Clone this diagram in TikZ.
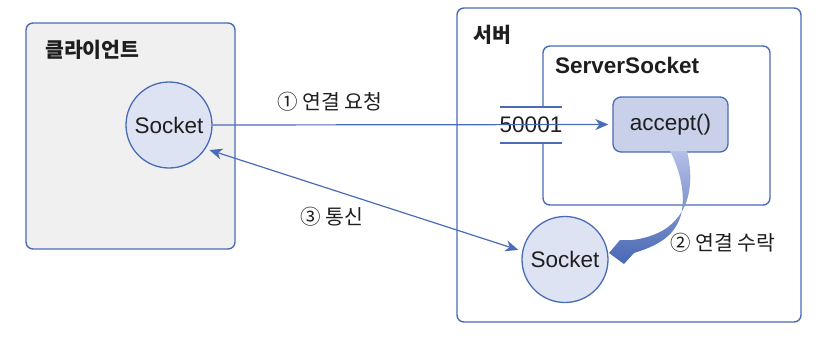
\documentclass[tikz,border=0pt]{standalone}
\usepackage{fontspec}
\setmainfont{Liberation Sans}
\newfontfamily\kr{Noto Sans CJK KR}
\usetikzlibrary{arrows.meta}
\definecolor{lineblue}{RGB}{74,108,182}
\definecolor{clientfill}{RGB}{240,240,240}
\definecolor{sockfill}{RGB}{222,227,243}
\definecolor{accfill}{RGB}{200,208,234}
\definecolor{txt}{RGB}{30,30,30}
\definecolor{gtop}{RGB}{180,192,232}
\definecolor{gmid}{RGB}{210,217,241}
\definecolor{gbot}{RGB}{72,104,180}
\tikzset{stl/.tip={Stealth[length=13pt,width=11pt,inset=4pt]}}
\begin{document}
\begin{tikzpicture}[x=1pt,y=-1pt,
  box/.style={draw=lineblue, line width=1.4pt, rounded corners=7pt},
  sock/.style={circle, draw=lineblue, line width=1.3pt, fill=sockfill, minimum size=86pt, inner sep=0pt, font=\fontsize{22.5}{26}\selectfont, text=txt},
  titlekr/.style={anchor=west, inner sep=0pt, font=\kr\bfseries\fontsize{20.5}{24}\selectfont, text=txt},
  lbl/.style={anchor=west, inner sep=0pt, font=\kr\fontsize{20.5}{24}\selectfont, text=txt},
  conn/.style={draw=lineblue, line width=1.2pt},
]
\useasboundingbox (0,0) rectangle (820,338);
% boxes
\draw[box, fill=clientfill] (26,23) rectangle (235,249);
\draw[box] (457,8) rectangle (801,322);
\draw[box] (543,107) -- (543,46) -- (770,46) -- (770,205) -- (543,205) -- (543,143);
% titles
\node[titlekr] (ct) at (45,50) {클라이언트};
\node[titlekr] (st) at (473,35) {서버};
\node[anchor=west, inner sep=0pt, font=\bfseries\fontsize{22.5}{26}\selectfont, text=txt] (sst) at (555,65) {ServerSocket};
% nodes
\node[sock] (cs) at (169,125) {Socket};
\node[sock] (ss) at (565,259.5) {Socket};
\node[draw=lineblue, line width=1.3pt, fill=accfill, rounded corners=8pt, minimum width=115pt, minimum height=55pt, inner sep=0pt, font=\fontsize{22.5}{26}\selectfont, text=txt] (acc) at (670.5,124.5) {accept()};
% port
\node[inner sep=0pt, font=\fontsize{22.5}{26}\selectfont, text=txt] (port) at (531,125) {50001};
\coordinate (p1a) at (500,107);
\coordinate (p1b) at (562,107);
\coordinate (p2a) at (500,143);
\coordinate (p2b) at (562,143);
\draw[conn] (p1a) -- (p1b) (p2a) -- (p2b);
% connectors
\draw[conn, -stl, shorten >=4pt] (cs.east) -- (acc.west);
\draw[conn, stl-stl, shorten >=4pt, shorten <=4pt] (cs.-33) -- (ss.169);
% curved thick arrow (accept -> socket)
\shade[top color=gtop, middle color=gmid, bottom color=gbot]
  (687,151) .. controls (694,180) and (692,215) .. (660,232)
  .. controls (650,237) and (640,239) .. (632,240)
  -- (620,240) -- (609,253) -- (624,264) -- (634,253)
  .. controls (660,245) and (675,235) .. (681,215)
  .. controls (686,195) and (680,170) .. (670,151) -- cycle;
% labels
\node[lbl] (l1) at (277,102) {① 연결 요청};
\node[lbl] (l3) at (300,217) {③ 통신};
\node[lbl] (l2) at (670,243) {② 연결 수락};
\end{tikzpicture}
\end{document}
